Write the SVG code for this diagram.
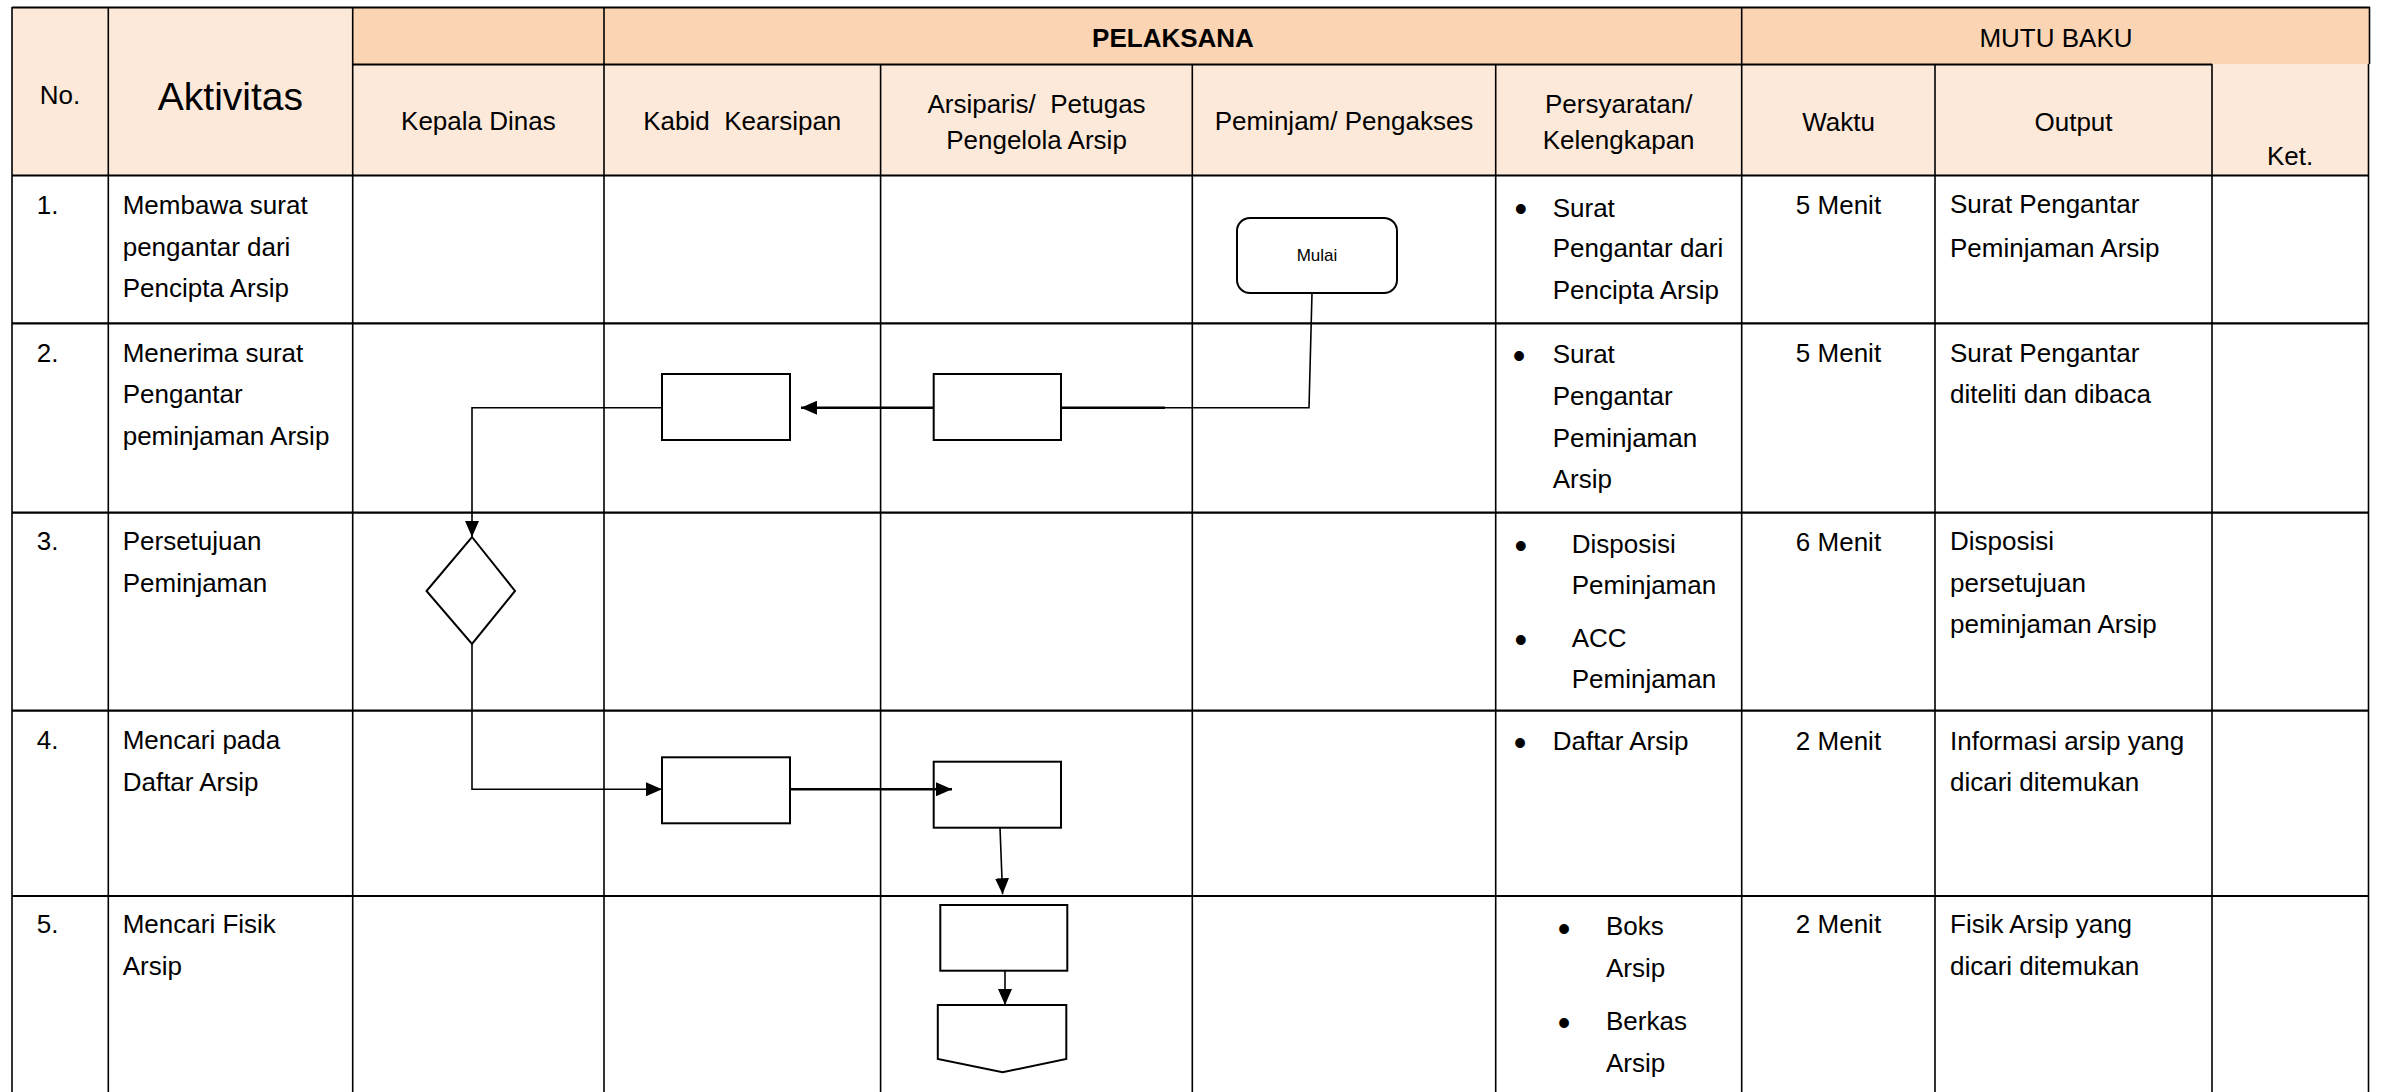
<svg xmlns="http://www.w3.org/2000/svg" width="2383" height="1092" viewBox="0 0 2383 1092">
<style>
text{font-family:"Liberation Sans",Arial,sans-serif;font-size:26px;fill:#000}
.c{text-anchor:middle}
.b{font-weight:bold}
.bul{font-size:36px;text-anchor:middle;dominant-baseline:central}
.hl{stroke:#000;stroke-width:2.2;fill:none}
.vl{stroke:#000;stroke-width:1.6;fill:none}
.shape{fill:#fff;stroke:#000;stroke-width:2}
.con{fill:none;stroke:#000;stroke-width:2.4}
.thin{fill:none;stroke:#000;stroke-width:1.6}
</style>
<defs>
<marker id="arr" markerUnits="userSpaceOnUse" viewBox="0 0 16 14" refX="16" refY="7" markerWidth="16" markerHeight="14" orient="auto">
<path d="M0,0 L16,7 L0,14 z" fill="#000"/>
</marker>
</defs>
<rect width="2383" height="1092" fill="#fff"/>

<g id="table">
<rect x="12" y="7.5" width="340.7" height="168" fill="#FDE9D9"/>
<rect x="352.7" y="7.5" width="2017" height="57" fill="#FBD4B4"/>
<rect x="352.7" y="64.5" width="2016" height="111" fill="#FDE9D9"/>
<path class="hl" d="M12,7.5H2370 M352.7,64.5H2212 M12,175.5H2368.5 M12,323.3H2368.5 M12,512.7H2368.5 M12,710.7H2368.5 M12,896H2368.5"/>
<path class="vl" d="M12,7V1092 M108.3,7V1092 M352.7,7V1092 M604,7V1092 M880.6,64V1092 M1192.3,64V1092 M1495.7,64V1092 M1741.7,7V1092 M1935,64V1092 M2212,64V1092 M2368.5,64V1092 M2369.5,7V64"/>
</g>

<g id="header">
<text class="c" x="60" y="104">No.</text>
<text class="c" x="230.4" y="110" style="font-size:39px">Aktivitas</text>
<text class="c b" x="1173" y="47">PELAKSANA</text>
<text class="c" x="2056" y="47">MUTU BAKU</text>
<text class="c" x="478.4" y="130">Kepala Dinas</text>
<text class="c" x="742.3" y="130" xml:space="preserve">Kabid  Kearsipan</text>
<text class="c" x="1036.5" y="113.3" xml:space="preserve">Arsiparis/  Petugas</text>
<text class="c" x="1036.5" y="149.3">Pengelola Arsip</text>
<text class="c" x="1344" y="130">Peminjam/ Pengakses</text>
<text class="c" x="1618.7" y="113.3">Persyaratan/</text>
<text class="c" x="1618.7" y="149.3">Kelengkapan</text>
<text class="c" x="1838.5" y="131">Waktu</text>
<text class="c" x="2073.5" y="131">Output</text>
<text class="c" x="2290" y="165">Ket.</text>
</g>

<g id="row1">
<text x="36.7" y="214">1.</text>
<text x="122.7" y="214">Membawa surat</text>
<text x="122.7" y="255.5">pengantar dari</text>
<text x="122.7" y="297">Pencipta Arsip</text>
<text class="bul" x="1520.7" y="208">•</text>
<text x="1552.7" y="216.7">Surat</text>
<text x="1552.7" y="257">Pengantar dari</text>
<text x="1552.7" y="299">Pencipta Arsip</text>
<text class="c" x="1838.5" y="214">5 Menit</text>
<text x="1950" y="213">Surat Pengantar</text>
<text x="1950" y="256.5">Peminjaman Arsip</text>
</g>

<g id="row2">
<text x="36.7" y="361.7">2.</text>
<text x="122.7" y="361.7">Menerima surat</text>
<text x="122.7" y="403.2">Pengantar</text>
<text x="122.7" y="444.7">peminjaman Arsip</text>
<text class="bul" x="1519" y="355">•</text>
<text x="1552.7" y="363.3">Surat</text>
<text x="1552.7" y="405">Pengantar</text>
<text x="1552.7" y="446.7">Peminjaman</text>
<text x="1552.7" y="488.3">Arsip</text>
<text class="c" x="1838.5" y="361.7">5 Menit</text>
<text x="1950" y="361.7">Surat Pengantar</text>
<text x="1950" y="403.2">diteliti dan dibaca</text>
</g>

<g id="row3">
<text x="36.7" y="550">3.</text>
<text x="122.7" y="550">Persetujuan</text>
<text x="122.7" y="591.7">Peminjaman</text>
<text class="bul" x="1520.7" y="545">•</text>
<text x="1571.7" y="553.3">Disposisi</text>
<text x="1571.7" y="594">Peminjaman</text>
<text class="bul" x="1520.7" y="639.3">•</text>
<text x="1571.7" y="647.3">ACC</text>
<text x="1571.7" y="688.3">Peminjaman</text>
<text class="c" x="1838.5" y="550.7">6 Menit</text>
<text x="1950" y="550">Disposisi</text>
<text x="1950" y="591.7">persetujuan</text>
<text x="1950" y="633.3">peminjaman Arsip</text>
</g>

<g id="row4">
<text x="36.7" y="749.4">4.</text>
<text x="122.7" y="749.4">Mencari pada</text>
<text x="122.7" y="790.5">Daftar Arsip</text>
<text class="bul" x="1520" y="742.7">•</text>
<text x="1552.7" y="750">Daftar Arsip</text>
<text class="c" x="1838.5" y="750">2 Menit</text>
<text x="1950" y="750">Informasi arsip yang</text>
<text x="1950" y="790.5">dicari ditemukan</text>
</g>

<g id="row5">
<text x="36.7" y="933.4">5.</text>
<text x="122.7" y="933.4">Mencari Fisik</text>
<text x="122.7" y="975">Arsip</text>
<text class="bul" x="1564" y="928">•</text>
<text x="1606" y="935">Boks</text>
<text x="1606" y="977">Arsip</text>
<text class="bul" x="1564" y="1022">•</text>
<text x="1606" y="1030">Berkas</text>
<text x="1606" y="1071.7">Arsip</text>
<text class="c" x="1838.5" y="933.4">2 Menit</text>
<text x="1950" y="933.4">Fisik Arsip yang</text>
<text x="1950" y="975">dicari ditemukan</text>
</g>

<g id="mulai">
<rect class="shape" x="1237" y="218" width="160" height="75" rx="13"/>
<text class="c" x="1317" y="261" style="font-size:17px">Mulai</text>
</g>
<g id="terima-arsiparis"><rect class="shape" x="933.7" y="374" width="127.3" height="66"/></g>
<g id="terima-kabid"><rect class="shape" x="662" y="374" width="128" height="66"/></g>
<g id="persetujuan"><path class="shape" d="M472,537 L515,591 L472,644 L426.5,591 Z"/></g>
<g id="cari-kabid"><rect class="shape" x="662" y="757.3" width="128" height="66"/></g>
<g id="cari-arsiparis"><rect class="shape" x="933.7" y="761.7" width="127.3" height="66"/></g>
<g id="fisik-arsiparis"><rect class="shape" x="940.3" y="905" width="127" height="65.7"/></g>
<g id="offpage"><path class="shape" d="M937.8,1005 L1066.3,1005 L1066.3,1059 L1002.6,1072.3 L937.8,1059 Z"/></g>

<g id="connectors">
<path class="thin" d="M1312,293 L1309,407.7 L1165,407.7"/>
<path class="con" d="M1165,407.7 L1061,407.7"/>
<path class="con" d="M933.7,407.7 L801,407.7" marker-end="url(#arr)"/>
<path class="thin" d="M662,407.7 L472,407.7 L472,537" marker-end="url(#arr)"/>
<path class="thin" d="M472,644 L472,789.3 L662,789.3" marker-end="url(#arr)"/>
<path class="con" d="M790,789.3 L952,789.3" marker-end="url(#arr)"/>
<path class="thin" d="M1000,827.7 L1002.6,894.3" marker-end="url(#arr)"/>
<path class="thin" d="M1005,970.7 L1005,1005" marker-end="url(#arr)"/>
</g>
</svg>
